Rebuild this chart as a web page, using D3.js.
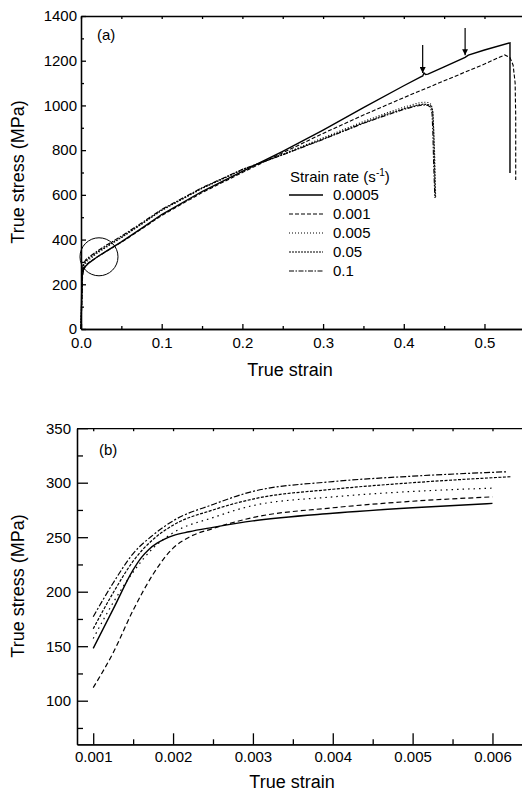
<!DOCTYPE html>
<html>
<head>
<meta charset="utf-8">
<script src="https://cdn.jsdelivr.net/npm/d3@7"></script>
<style>
  body { margin: 0; background: #fff; }
  svg { display: block; font-family: "Liberation Sans", Arial, sans-serif; }
  .axis text { font-family: "Liberation Sans", Arial, sans-serif; font-size: 15px; fill: #000; }
  .axis path, .axis line { stroke: #000; stroke-width: 1.3px; }
  .curve { fill: none; stroke: #000; }
</style>
</head>
<body>
<div id="graph"></div>
<script>
// legend / series names
var rates = ["0.0005", "0.001", "0.005", "0.05", "0.1"];

// panel (a): [true strain, true stress MPa]
var a_0005 = [[0,0],[0.0008,150],[0.0015,235],[0.003,265],[0.006,282],[0.01,296],[0.02,322],[0.03,345],[0.05,390],[0.075,450],[0.1,512],[0.15,615],[0.2,705],[0.25,795],[0.3,890],[0.35,990],[0.4,1088],[0.421,1128],[0.4235,1132],[0.425,1145],[0.427,1138],[0.43,1140],[0.45,1172],[0.476,1215],[0.48,1225],[0.5,1248],[0.5316,1280],[0.5316,698]];
var a_001 = [[0,0],[0.001,112],[0.0016,200],[0.002,241],[0.003,268],[0.006,287],[0.01,298],[0.02,322],[0.03,344],[0.05,388],[0.075,447],[0.1,508],[0.15,610],[0.2,700],[0.25,788],[0.3,875],[0.35,957],[0.4,1035],[0.45,1110],[0.5,1185],[0.525,1226],[0.5316,1214],[0.5355,1180],[0.538,1100],[0.5387,950],[0.5387,666]];
var a_005 = [[0,0],[0.001,157],[0.002,255],[0.003,279],[0.006,295],[0.01,310],[0.02,338],[0.03,362],[0.05,408],[0.075,468],[0.1,530],[0.15,628],[0.2,712],[0.25,782],[0.3,855],[0.35,928],[0.38,968],[0.4,992],[0.415,1008],[0.424,1015],[0.43,1013],[0.434,1005],[0.436,975],[0.437,900],[0.4385,760],[0.4395,590]];
var a_05 = [[0,0],[0.001,166],[0.002,262],[0.003,285],[0.0062,305],[0.01,316],[0.02,343],[0.03,366],[0.05,410],[0.075,470],[0.1,532],[0.15,630],[0.2,713],[0.25,780],[0.3,850],[0.35,922],[0.38,962],[0.4,985],[0.415,1000],[0.424,1006],[0.43,1004],[0.434,997],[0.436,970],[0.437,890],[0.438,750],[0.4391,586]];
var a_1 = [[0,0],[0.001,177],[0.002,265],[0.003,292],[0.006,310],[0.01,322],[0.02,348],[0.03,372],[0.05,415],[0.075,474],[0.1,535],[0.15,632],[0.2,714],[0.25,779],[0.3,848],[0.35,920],[0.38,958],[0.4,982],[0.415,997],[0.424,1002],[0.43,1000],[0.433,993],[0.435,965],[0.436,880],[0.437,740],[0.4385,586]];

// arrows in (a): strain, tail stress, tip stress
var arrowStrain = [0.4234, 0.476];
var arrowTail = [1270, 1346];
var arrowTip = [1145, 1225];
// circled region in (a)
var circleAt = [0.0223, 323];

// panel (b)
var b_0005 = [[0.001,148],[0.00125,184],[0.0015,220],[0.0016,231],[0.0017,239],[0.0018,244.5],[0.0019,248.5],[0.002,251.5],[0.0022,255],[0.0025,259],[0.003,265],[0.004,272],[0.005,277],[0.006,281]];
var b_001 = [[0.001,112],[0.00125,144],[0.0015,183],[0.00175,216],[0.002,240],[0.0022,250],[0.0025,258],[0.003,268],[0.004,277],[0.005,283],[0.006,287]];
var b_005 = [[0.001,157],[0.00125,190],[0.0015,218],[0.00175,240],[0.002,254],[0.0025,268],[0.003,279],[0.004,287],[0.005,292],[0.006,295]];
var b_05 = [[0.001,166],[0.00125,199],[0.0015,228],[0.00175,248],[0.002,261],[0.0025,275],[0.003,285],[0.004,294],[0.005,300],[0.00623,305.5]];
var b_1 = [[0.001,177],[0.00125,208],[0.0015,235],[0.00175,252],[0.002,265],[0.0025,280],[0.003,292],[0.004,301],[0.005,306],[0.00617,310]];

var xTicksA = [0, 0.1, 0.2, 0.3, 0.4, 0.5],
    yTicksA = [0, 200, 400, 600, 800, 1000, 1200, 1400],
    xTicksB = [0.001, 0.002, 0.003, 0.004, 0.005, 0.006],
    yTicksB = [100, 150, 200, 250, 300, 350];

var dashA = [null, "4,2", "1,2", "2,1", "5,1.5,1.5,1.5"];
var dashB = [null, "5,3", "1.5,4", "3,1.5", "6,2,2,2"];

var W = 522, H = 793;
var svg = d3.select("#graph").append("svg").attr("width", W).attr("height", H);

svg.append("defs").append("marker")
    .attr("id", "head")
    .attr("viewBox", "0 0 10 10")
    .attr("refX", 10).attr("refY", 5)
    .attr("markerWidth", 6).attr("markerHeight", 6)
    .attr("markerUnits", "userSpaceOnUse")
    .attr("orient", "auto")
  .append("path").attr("d", "M0,0L10,5L0,10z").attr("fill", "#000");

function axisG(g) {
  // drop the d3 default 10px sans-serif so the css applies
  return g.attr("class", "axis").attr("font-size", null).attr("font-family", null);
}

// ---------- panel (a)
var xa = d3.scaleLinear().domain([0, 0.5688]).range([81, 540]),
    ya = d3.scaleLinear().domain([0, 1400]).range([329, 16]);

var ga = svg.append("g");

ga.append("g").attr("transform", "translate(0,329)")
    .call(d3.axisBottom(xa).tickValues(d3.range(0.05, 0.56, 0.1)).tickSize(-3).tickSizeOuter(0).tickFormat("")).call(axisG);
ga.append("g").attr("transform", "translate(0,329)")
    .call(d3.axisBottom(xa).tickValues(xTicksA).tickSize(-5).tickSizeOuter(0).tickPadding(8).tickFormat(d3.format(".1f"))).call(axisG);
ga.append("g").attr("transform", "translate(0,16)")
    .call(d3.axisTop(xa).tickValues(d3.range(0, 0.56, 0.05)).tickSize(-3).tickSizeOuter(0).tickFormat("")).call(axisG);
ga.append("g").attr("transform", "translate(81,0)")
    .call(d3.axisLeft(ya).tickValues(d3.range(100, 1400, 200)).tickSize(-3).tickSizeOuter(0).tickFormat("")).call(axisG);
ga.append("g").attr("transform", "translate(81,0)")
    .call(d3.axisLeft(ya).tickValues(yTicksA).tickSize(-5).tickSizeOuter(0).tickPadding(4).tickFormat(d3.format("d"))).call(axisG);

var lineA = d3.line().x(function(d) { return xa(d[0]); }).y(function(d) { return ya(d[1]); });
var seriesA = [a_0005, a_001, a_005, a_05, a_1];
seriesA.forEach(function(s, i) {
  ga.append("path").attr("class", "curve")
    .attr("d", lineA(s))
    .attr("stroke-width", i == 0 ? 1.4 : 1.1)
    .attr("stroke-dasharray", dashA[i]);
});

arrowStrain.forEach(function(v, i) {
  ga.append("line")
    .attr("x1", xa(v)).attr("x2", xa(v))
    .attr("y1", ya(arrowTail[i])).attr("y2", ya(arrowTip[i]))
    .attr("stroke", "#000").attr("stroke-width", 1.2)
    .attr("marker-end", "url(#head)");
});

ga.append("circle")
  .attr("cx", xa(circleAt[0])).attr("cy", ya(circleAt[1])).attr("r", 19)
  .attr("fill", "none").attr("stroke", "#000").attr("stroke-width", 1);

ga.append("text").attr("x", 97).attr("y", 40).style("font-size", "15px").text("(a)");

// legend
var leg = ga.append("g");
var title = leg.append("text").attr("x", 290).attr("y", 182).style("font-size", "15px");
title.append("tspan").text("Strain rate (s");
title.append("tspan").attr("dy", -6).style("font-size", "10px").text("-1");
title.append("tspan").attr("dy", 6).text(")");
rates.forEach(function(r, i) {
  var y = 195 + i * 19;
  leg.append("line").attr("x1", 289).attr("x2", 323).attr("y1", y).attr("y2", y)
    .attr("stroke", "#000").attr("stroke-width", i == 0 ? 1.4 : 1.1)
    .attr("stroke-dasharray", dashA[i]);
  leg.append("text").attr("x", 333).attr("y", y).attr("dy", "0.35em")
    .style("font-size", "15px").text(r);
});

ga.append("text").attr("x", 290).attr("y", 376).attr("text-anchor", "middle")
  .style("font-size", "18px").text("True strain");
ga.append("text").attr("transform", "translate(24,172) rotate(-90)").attr("text-anchor", "middle")
  .style("font-size", "18px").text("True stress (MPa)");

// ---------- panel (b)
var xb = d3.scaleLinear().domain([0.000797, 0.00647]).range([77, 530]),
    yb = d3.scaleLinear().domain([60, 350]).range([744.3, 428.2]);

var gb = svg.append("g");

gb.append("g").attr("transform", "translate(0,744.3)")
    .call(d3.axisBottom(xb).tickValues(d3.range(0.0015, 0.0064, 0.001)).tickSize(-5).tickSizeOuter(0).tickFormat("")).call(axisG);
gb.append("g").attr("transform", "translate(0,744.3)")
    .call(d3.axisBottom(xb).tickValues(xTicksB).tickSize(-11).tickSizeOuter(0).tickPadding(7).tickFormat(d3.format(".3f"))).call(axisG);
gb.append("g").attr("transform", "translate(0,428.2)")
    .call(d3.axisTop(xb).tickValues(d3.range(0.001, 0.0064, 0.0005)).tickSize(-3).tickSizeOuter(0).tickFormat("")).call(axisG);
gb.append("g").attr("transform", "translate(77,0)")
    .call(d3.axisLeft(yb).tickValues(d3.range(75, 350, 50)).tickSize(-6).tickSizeOuter(0).tickFormat("")).call(axisG);
gb.append("g").attr("transform", "translate(77,0)")
    .call(d3.axisLeft(yb).tickValues(yTicksB).tickSize(-11).tickSizeOuter(0).tickPadding(6)).call(axisG);

var lineB = d3.line().curve(d3.curveMonotoneX)
    .x(function(d) { return xb(d[0]); }).y(function(d) { return yb(d[1]); });
var seriesB = [b_0005, b_001, b_005, b_05, b_1];
seriesB.forEach(function(s, i) {
  gb.append("path").attr("class", "curve")
    .attr("d", lineB(s))
    .attr("stroke-width", i == 0 ? 1.4 : 1.2)
    .attr("stroke-dasharray", dashB[i]);
});

gb.append("text").attr("x", 99).attr("y", 455).style("font-size", "15px").text("(b)");
gb.append("text").attr("x", 292).attr("y", 788).attr("text-anchor", "middle")
  .style("font-size", "18px").text("True strain");
gb.append("text").attr("transform", "translate(24,586) rotate(-90)").attr("text-anchor", "middle")
  .style("font-size", "18px").text("True stress (MPa)");
</script>
</body>
</html>
